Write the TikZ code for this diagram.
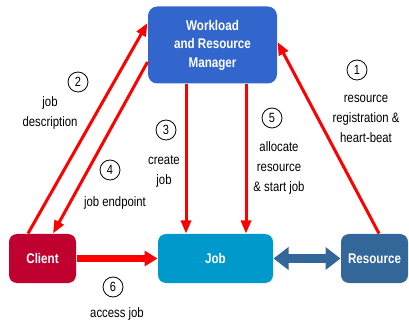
\documentclass[tikz,border=0pt]{standalone}
\usepackage{fontspec}
\setmainfont[FakeStretch=0.83]{Liberation Sans}
\usetikzlibrary{arrows.meta,calc}

\definecolor{mgrblue}{RGB}{51,102,204}
\definecolor{clientred}{RGB}{192,0,47}
\definecolor{jobcyan}{RGB}{0,153,204}
\definecolor{resblue}{RGB}{51,102,153}

\tikzset{every picture/.style={line width=0.75pt}}
\tikzset{
  box/.style={rounded corners=7pt, text=white, align=center, inner sep=0pt,
    font=\fontsize{10.5}{13.9}\selectfont\bfseries},
  redarrow/.style={draw=red, line width=2.25pt, -{Triangle[length=9.75pt,width=7.5pt]}},
  fatarrow/.style={draw=red, line width=4.5pt, -{Triangle[length=9.75pt,width=11.25pt]}},
  twoway/.style={draw=resblue, line width=6pt, {Triangle[length=11.25pt,width=16.5pt]}-{Triangle[length=11.25pt,width=16.5pt]}},
  num/.style={circle, draw, line width=0.6pt, minimum size=15pt, inner sep=0pt,
    font=\fontsize{10}{10}\selectfont},
  lbl/.style={align=center, inner sep=0.75pt, font=\fontsize{10.25}{15}\selectfont},
}

\begin{document}
\begin{tikzpicture}[x=0.75pt,y=0.75pt,yscale=-1,xscale=1]
    \useasboundingbox (0,0) rectangle (409,323);

    %Shape: Rounded Rectangle [Manager]
    \node (mgr) [box, fill=mgrblue, minimum width=96.75pt, minimum height=57.75pt] at (212.5,45) {Workload\\and Resource\\Manager};
    %Shape: Rounded Rectangle [Client]
    \node (client) [box, fill=clientred, rounded corners=6pt, minimum width=50.25pt, minimum height=36.75pt] at (42.5,258.5) {Client};
    %Shape: Rounded Rectangle [Job]
    \node (job) [box, fill=jobcyan, rounded corners=6pt, minimum width=86.25pt, minimum height=36.75pt] at (215.5,258.5) {Job};
    %Shape: Rounded Rectangle [Resource]
    \node (res) [box, fill=resblue, rounded corners=6pt, minimum width=50.25pt, minimum height=36.75pt] at (374.5,258.5) {Resource};

    %Straight Lines [1: resource registration]
    \draw [redarrow] ($(res.north)+(4.5,0)$) -- ($(mgr.east)+(0,-3)$);
    %Straight Lines [2: job description]
    \draw [redarrow] ($(client.north)+(-14.5,0)$) -- ($(mgr.west)+(0,-22)$);
    %Straight Lines [3: create job]
    \draw [redarrow] ($(mgr.south)+(-26.5,0)$) -- ($(job.north)+(-29.5,0)$);
    %Straight Lines [4: job endpoint]
    \draw [redarrow] ($(mgr.west)+(0,17)$) -- ($(client.north)+(10.5,0)$);
    %Straight Lines [5: allocate resource]
    \draw [redarrow] ($(mgr.south)+(33.5,0)$) -- ($(job.north)+(30.5,0)$);
    %Straight Lines [6: access job]
    \draw [fatarrow] (client.east) -- (job.west);
    %Straight Lines [job <-> resource]
    \draw [twoway] (job.east) -- (res.west);

    % Text Node
    \node (n1) [num] at (357,70) {1};
    % Text Node
    \node (t1) [lbl] at (366,119) {resource\\registration \&\\heart-beat};
    % Text Node
    \node (n2) [num] at (78,82) {2};
    % Text Node
    \node (t2) [lbl] at (50,112.5) {job\\description};
    % Text Node
    \node (n3) [num] at (166,130) {3};
    % Text Node
    \node (t3) [lbl] at (164,171.5) {create\\job};
    % Text Node
    \node (n4) [num] at (110,170) {4};
    % Text Node
    \node (t4) [lbl] at (115,203) {job endpoint};
    % Text Node
    \node (n5) [num] at (272,118) {5};
    % Text Node
    \node (t5) [lbl] at (279,168) {allocate\\resource\\\& start job};
    % Text Node
    \node (n6) [num] at (113,287) {6};
    % Text Node
    \node (t6) [lbl] at (117,314) {access job};

\end{tikzpicture}
\end{document}
